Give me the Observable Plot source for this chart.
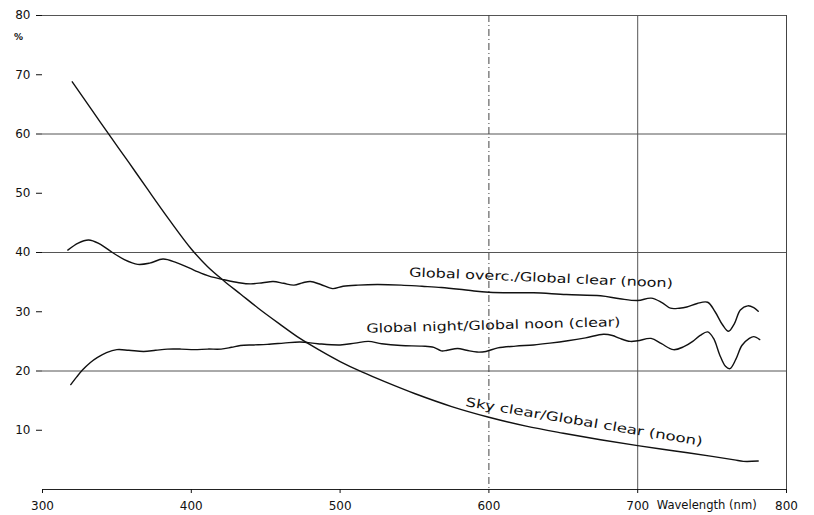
<!DOCTYPE html>
<html><head><meta charset="utf-8">
<script src="https://cdn.jsdelivr.net/npm/d3@7"></script>
<script src="https://cdn.jsdelivr.net/npm/@observablehq/plot@0.6"></script>
<style>
body{margin:0;background:#fff;}
</style></head><body><div id="chart"></div>
<script>
// Global overcast / Global clear (noon)
const overcastNm  = [317,324,331,338,347,355,364,372,381,390,402,412,422,432,440,448,455,462,469,475,480,487,495,502,512,525,541,555,568,580,590,600,615,630,652,675,688,700,709,716,722,728,733,740,747,752,757,761,765,769,774,778,781];
const overcastPct = [40.4,41.6,42.1,41.5,40.0,38.8,38.0,38.2,38.9,38.3,37.0,36.0,35.4,34.9,34.7,34.9,35.1,34.8,34.5,34.9,35.1,34.6,33.9,34.3,34.5,34.6,34.5,34.3,34.1,33.8,33.5,33.3,33.2,33.2,32.9,32.7,32.2,31.9,32.3,31.6,30.6,30.6,30.8,31.4,31.6,30.0,27.8,26.7,28.0,30.3,31.0,30.7,30.1];
// Global night / Global noon (clear)
const nightNm  = [319,323,327,332,337,343,350,358,368,376,384,393,402,411,420,427,433,442,451,462,473,485,500,510,519,528,541,555,563,568,572,579,585,592,598,606,618,630,641,653,665,677,683,688,695,700,709,716,724,731,737,742,747,751,755,759,762,766,770,775,778,782];
const nightPct = [17.7,19.0,20.2,21.4,22.3,23.1,23.6,23.5,23.3,23.5,23.7,23.7,23.6,23.7,23.7,24.0,24.3,24.4,24.5,24.7,24.9,24.6,24.4,24.7,25.0,24.6,24.3,24.2,24.0,23.4,23.5,23.8,23.5,23.2,23.3,23.9,24.2,24.4,24.7,25.1,25.6,26.2,26.0,25.5,25.0,25.1,25.5,24.6,23.6,24.1,25.0,26.0,26.6,25.5,22.8,20.8,20.4,22.0,24.3,25.5,25.8,25.3];
// Sky clear / Global clear (noon)
const skyNm  = [320,333,345,358,370,385,400,411,422,433,445,459,473,487,500,515,530,550,575,600,625,650,675,700,725,750,765,771,781];
const skyPct = [68.8,64.1,59.8,55.2,50.9,45.6,40.6,37.6,35.2,33.0,30.6,28.0,25.5,23.4,21.6,19.8,18.2,16.2,14.0,12.2,10.7,9.5,8.4,7.4,6.5,5.6,5.0,4.75,4.8];

const seriesLabels = ["Global overc./Global clear (noon)", "Global night/Global noon (clear)", "Sky clear/Global clear (noon)"];
const xTicks = [300,400,500,600,700,800];
const yTicks = [10,20,30,40,50,60,70,80];
const gridY = [20,40,60,80];
const xAxisTitle = "Wavelength (nm)";
const yUnit = "%";

const toRows = (xs, ys) => xs.map((x, i) => ({nm: x, pct: ys[i]}));
const overcast = toRows(overcastNm, overcastPct);
const night = toRows(nightNm, nightPct);
const sky = toRows(skyNm, skyPct);

const font = "'DejaVu Sans', Verdana, sans-serif";
const lineStyle = {x: "nm", y: "pct", curve: "catmull-rom", stroke: "#111", strokeWidth: 1.4};
const labelStyle = {text: d => d, fontSize: 12.5, fill: "#111"};

const chart = Plot.plot({
  width: 814, height: 515,
  marginLeft: 42, marginRight: 28, marginTop: 15, marginBottom: 26,
  style: {fontFamily: font, fontSize: "12px", background: "#fff", color: "#111"},
  x: {domain: [300, 800]},
  y: {domain: [0, 80]},
  marks: [
    Plot.ruleY(gridY, {stroke: "#555", strokeWidth: 1}),
    Plot.ruleY([0], {stroke: "#222", strokeWidth: 1}),
    Plot.ruleX([600], {stroke: "#444", strokeDasharray: "7,3,1,3"}),
    Plot.ruleX([700], {stroke: "#555"}),
    Plot.ruleX([800], {stroke: "#444"}),
    Plot.axisX({ticks: xTicks, tickSize: 4, tickPadding: 8, tickFormat: d => String(d), label: null, fontSize: 12}),
    Plot.axisY({ticks: yTicks, tickSize: 6, tickPadding: 6, tickFormat: d => String(d), label: null, fontSize: 12}),
    Plot.line(overcast, lineStyle),
    Plot.line(night, lineStyle),
    Plot.line(sky, lineStyle),
    Plot.text([seriesLabels[0]], {...labelStyle, x: 635, y: 35.7, rotate: 2.4}),
    Plot.text([seriesLabels[1]], {...labelStyle, x: 603, y: 27.7, rotate: -1.5}),
    Plot.text([seriesLabels[2]], {...labelStyle, x: 664, y: 11.4, rotate: 9.5}),
    Plot.text([xAxisTitle], {x: 700, y: 0, text: d => d, textAnchor: "start", dx: 19, dy: 16, fontSize: 12, fill: "#111"}),
    Plot.text([yUnit], {x: 300, y: 76.3, text: d => d, dx: -24, fontSize: 9, fontWeight: "bold", fill: "#111"})
  ]
});
// stretch the annotation texts to the width they take in the reference
const textLengths = new Map([[seriesLabels[0], 264], [seriesLabels[1], 254], [seriesLabels[2], 240], [xAxisTitle, 100]]);
d3.select(chart).selectAll("text").each(function() {
  const len = textLengths.get(this.textContent);
  if (len) d3.select(this).attr("textLength", len).attr("lengthAdjust", "spacingAndGlyphs");
});
document.getElementById("chart").appendChild(chart);
</script></body></html>
